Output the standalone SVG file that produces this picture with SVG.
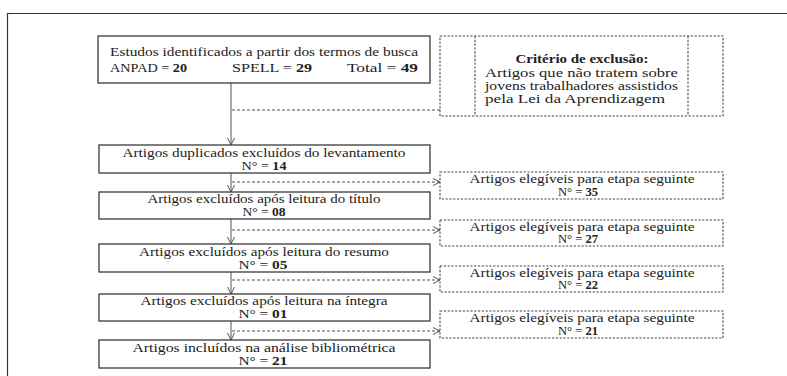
<svg xmlns="http://www.w3.org/2000/svg" width="787" height="376" viewBox="0 0 787 376">
<style>
.box{fill:#fff;stroke:#3a3a3a;stroke-width:1.3}
.dbox{fill:none;stroke:#444;stroke-width:1.1;stroke-dasharray:2.2 1.6}
.t{font-family:"Liberation Serif","Times New Roman",serif;font-size:11.5px;fill:#222;text-anchor:middle}
.b{font-weight:bold}
.l{text-anchor:start}
.conn{fill:none;stroke:#555;stroke-width:1}
.dash{stroke-dasharray:3 2}
</style>
<defs>
<marker id="arr" markerUnits="userSpaceOnUse" markerWidth="10" markerHeight="10" refX="7" refY="4" orient="auto">
<path d="M0,0.5 L7,4 L0,7.5" fill="none" stroke="#555" stroke-width="1"/>
</marker>
</defs>
<g id="frame">
<path d="M7.5,376 L7.5,13.5 L787,13.5" fill="none" stroke="#333" stroke-width="1.2"/>
</g>
<g id="connectors">
<path class="conn" d="M231,83 L231,145" marker-end="url(#arr)"/>
<path class="conn" d="M231,173 L231,192" marker-end="url(#arr)"/>
<path class="conn" d="M231,219 L231,244" marker-end="url(#arr)"/>
<path class="conn" d="M231,272 L231,294" marker-end="url(#arr)"/>
<path class="conn" d="M231,321 L231,340" marker-end="url(#arr)"/>
<path class="conn dash" d="M232,110 L440,110"/>
<path class="conn dash" d="M232,182 L440,182" marker-end="url(#arr)"/>
<path class="conn dash" d="M232,230 L440,230" marker-end="url(#arr)"/>
<path class="conn dash" d="M232,280 L440,280" marker-end="url(#arr)"/>
<path class="conn dash" d="M232,331 L440,331" marker-end="url(#arr)"/>
</g>
<g id="n1">
<rect class="box" x="98" y="36" width="332" height="47"/>
<text class="t" x="264" y="56" textLength="308" lengthAdjust="spacingAndGlyphs">Estudos identificados a partir dos termos de busca</text>
<text class="t l" x="110" y="72" textLength="77" lengthAdjust="spacingAndGlyphs">ANPAD = <tspan class="b">20</tspan></text>
<text class="t l" x="232" y="72" textLength="80" lengthAdjust="spacingAndGlyphs">SPELL =  <tspan class="b">29</tspan></text>
<text class="t l" x="347" y="72" textLength="71" lengthAdjust="spacingAndGlyphs">Total  =  <tspan class="b">49</tspan></text>
</g>
<g id="exclusao">
<rect class="dbox" x="440" y="36" width="283" height="80"/>
<path class="dbox" d="M475,36 L475,116 M688,36 L688,116"/>
<text class="t b" x="582" y="63" textLength="133" lengthAdjust="spacingAndGlyphs">Critério de exclusão:</text>
<text class="t l" x="485" y="77" textLength="193" lengthAdjust="spacingAndGlyphs">Artigos que não tratem sobre</text>
<text class="t l" x="485" y="90" textLength="193" lengthAdjust="spacingAndGlyphs">jovens trabalhadores assistidos</text>
<text class="t l" x="485" y="103" textLength="180" lengthAdjust="spacingAndGlyphs">pela Lei da Aprendizagem</text>
</g>
<g id="n2">
<rect class="box" x="99" y="145" width="331" height="28"/>
<text class="t" x="264" y="156.5" textLength="283" lengthAdjust="spacingAndGlyphs">Artigos duplicados excluídos do levantamento</text>
<text class="t" x="264" y="169.5" textLength="45" lengthAdjust="spacingAndGlyphs">N° = <tspan class="b">14</tspan></text>
</g>
<g id="e1">
<rect class="dbox" x="440" y="172" width="283" height="27"/>
<text class="t" x="582" y="182.5" textLength="225" lengthAdjust="spacingAndGlyphs">Artigos elegíveis para etapa seguinte</text>
<text class="t" x="578" y="195.5" textLength="40" lengthAdjust="spacingAndGlyphs">N° = <tspan class="b">35</tspan></text>
</g>
<g id="n3">
<rect class="box" x="99" y="192" width="331" height="27"/>
<text class="t" x="264" y="202.5" textLength="233" lengthAdjust="spacingAndGlyphs">Artigos excluídos após leitura do título</text>
<text class="t" x="264" y="215.5" textLength="43" lengthAdjust="spacingAndGlyphs">N° = <tspan class="b">08</tspan></text>
</g>
<g id="e2">
<rect class="dbox" x="440" y="220" width="283" height="26"/>
<text class="t" x="582" y="230.5" textLength="225" lengthAdjust="spacingAndGlyphs">Artigos elegíveis para etapa seguinte</text>
<text class="t" x="578" y="243" textLength="40" lengthAdjust="spacingAndGlyphs">N° = <tspan class="b">27</tspan></text>
</g>
<g id="n4">
<rect class="box" x="99" y="244" width="331" height="28"/>
<text class="t" x="264" y="255.5" textLength="250" lengthAdjust="spacingAndGlyphs">Artigos excluídos após leitura do resumo</text>
<text class="t" x="263" y="268.5" textLength="49" lengthAdjust="spacingAndGlyphs">N° =  <tspan class="b">05</tspan></text>
</g>
<g id="e3">
<rect class="dbox" x="440" y="266" width="283" height="26"/>
<text class="t" x="582" y="276.5" textLength="225" lengthAdjust="spacingAndGlyphs">Artigos elegíveis para etapa seguinte</text>
<text class="t" x="578" y="289" textLength="40" lengthAdjust="spacingAndGlyphs">N° = <tspan class="b">22</tspan></text>
</g>
<g id="n5">
<rect class="box" x="99" y="294" width="331" height="27"/>
<text class="t" x="264" y="304.5" textLength="247" lengthAdjust="spacingAndGlyphs">Artigos excluídos após leitura na íntegra</text>
<text class="t" x="263" y="317.5" textLength="49" lengthAdjust="spacingAndGlyphs">N° =  <tspan class="b">01</tspan></text>
</g>
<g id="e4">
<rect class="dbox" x="440" y="311" width="283" height="27"/>
<text class="t" x="582" y="321.5" textLength="225" lengthAdjust="spacingAndGlyphs">Artigos elegíveis para etapa seguinte</text>
<text class="t" x="578" y="334.5" textLength="40" lengthAdjust="spacingAndGlyphs">N° = <tspan class="b">21</tspan></text>
</g>
<g id="n6">
<rect class="box" x="99" y="340" width="331" height="28"/>
<text class="t" x="264" y="351.5" textLength="263" lengthAdjust="spacingAndGlyphs">Artigos incluídos na análise bibliométrica</text>
<text class="t" x="263" y="364.5" textLength="49" lengthAdjust="spacingAndGlyphs">N° =  <tspan class="b">21</tspan></text>
</g>
</svg>
